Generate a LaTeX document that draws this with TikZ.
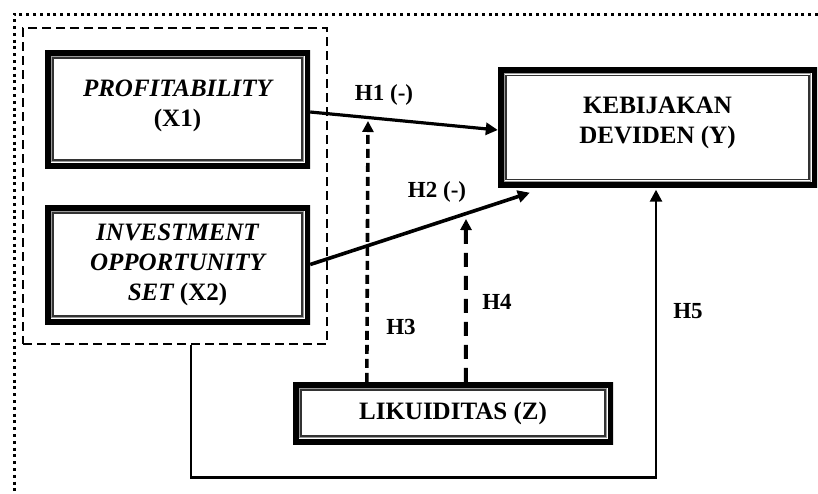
\documentclass[tikz,border=0pt]{standalone}
\usepackage{fontspec}
\setmainfont{Liberation Serif}
\usetikzlibrary{arrows.meta,calc}
\begin{document}
\begin{tikzpicture}[x=1pt,y=-1pt,
  frame/.style={rectangle, inner sep=0pt, path picture={
    \draw[line width=11pt] (path picture bounding box.south west) rectangle (path picture bounding box.north east);
    \draw[line width=0.8pt, black!40] ([shift={(6.2pt,6.2pt)}]path picture bounding box.south west) rectangle ([shift={(-6.2pt,-6.2pt)}]path picture bounding box.north east);
    \draw[line width=1.4pt, black!80] ([shift={(8pt,8pt)}]path picture bounding box.south west) rectangle ([shift={(-8pt,-8pt)}]path picture bounding box.north east);
  }},
  boxtext/.style={font=\fontsize{25}{30}\selectfont\bfseries, align=center, inner sep=0pt},
  hyp/.style={font=\fontsize{23}{28}\selectfont\bfseries, inner sep=0pt},
  solidarrow/.style={-{Triangle[length=12pt,width=12pt]}},
  dasharrow/.style={-{Triangle[length=11pt,width=11pt]}},
  grpbox/.style={draw, line width=2.4pt, dash pattern=on 9pt off 5pt, inner sep=0pt},
  outerdots/.style={line width=3pt, dash pattern=on 3pt off 3.8pt}
]
\useasboundingbox (0,0) rectangle (818,493);

% outer dotted frame (top and left visible)
\coordinate (otr) at (818,14);
\coordinate (otl) at (14,14);
\coordinate (obl) at (14,493);
\draw[outerdots] (otr) -- (otl) -- (obl);

% dashed group box
\node[grpbox, minimum width=304pt, minimum height=316pt] (grp) at (175,186) {};

% variable boxes
\node[frame, minimum width=265pt, minimum height=118pt,
  label={[name=x1t, boxtext, yshift=3pt]center:{\itshape PROFITABILITY}\\(X1)}] (x1) at (177.5,109) {};
\node[frame, minimum width=265pt, minimum height=119pt,
  label={[name=x2t, boxtext]center:{\itshape INVESTMENT}\\{\itshape OPPORTUNITY}\\{\itshape SET} (X2)}] (x2) at (177.5,264.5) {};
\node[frame, minimum width=319pt, minimum height=120pt,
  label={[name=yt, boxtext, yshift=5pt]center:KEBIJAKAN\\DEVIDEN (Y)}] (y) at (657.5,127.5) {};
\node[frame, minimum width=320pt, minimum height=62pt,
  label={[name=lzt, boxtext]center:LIKUIDITAS (Z)}] (lz) at (453,413) {};

% direct effects
\draw[line width=3.2pt, solidarrow] ($(x1.east)+(0,3)$) -- ($(y.west)+(0,2.5)$);
\draw[line width=3.6pt, solidarrow] (x2.east) -- ($(y.south west)+(32,5)$);

% moderating effects
\coordinate (h3end) at (368,121);
\coordinate (h4end) at (466,219);
\draw[dasharrow, line width=3.6pt, dash pattern=on 9pt off 5pt] ($(lz.north west)+(74,0)$) -- (h3end);
\draw[dasharrow, line width=4pt, dash pattern=on 14pt off 9pt] ($(lz.north west)+(173,0)$) -- (h4end);

% H5
\draw[line width=2.6pt, -{Triangle[length=12pt,width=12pt]}] ($(grp.south)+(16,0)$) |- ($(y.south)+(-1.5,290)$) -- ($(y.south)+(-1.5,2)$);

% hypothesis labels
\node[hyp] (h1) at (384,95) {H1 (-)};
\node[hyp] (h2) at (437,192) {H2 (-)};
\node[hyp] (h3) at (401,327) {H3};
\node[hyp] (h4) at (497,302) {H4};
\node[hyp] (h5) at (688,311) {H5};
\end{tikzpicture}
\end{document}
